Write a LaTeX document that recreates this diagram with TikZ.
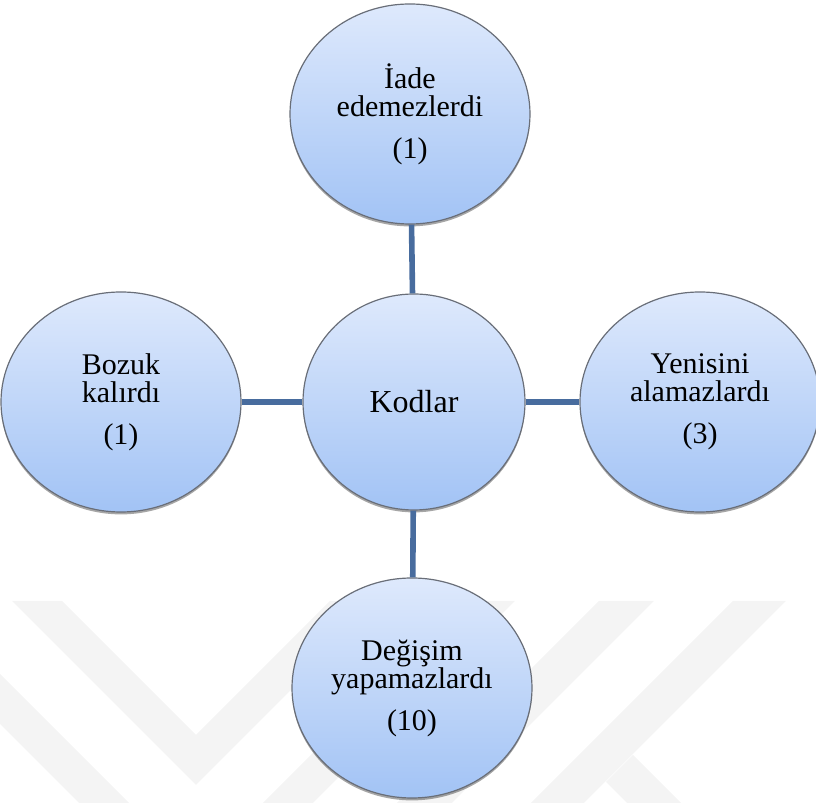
\documentclass[tikz,border=0pt]{standalone}
\usepackage{fontspec}
\setmainfont{Liberation Serif}
\usetikzlibrary{shapes.geometric,shadows}

\definecolor{linkblue}{RGB}{72,108,158}
\definecolor{bubbletop}{RGB}{222,233,252}
\definecolor{bubblebot}{RGB}{162,195,245}
\definecolor{bubbleedge}{RGB}{105,110,120}
\definecolor{markgray}{RGB}{244,244,244}

\begin{document}
\begin{tikzpicture}[x=0.5pt, y=0.5pt,
    bubble/.style={ellipse, draw=bubbleedge, line width=0.6pt, inner sep=0pt,
        top color=bubbletop, bottom color=bubblebot, align=center,
        font=\fontsize{15}{14}\selectfont,
        drop shadow={shadow xshift=0pt, shadow yshift=-1.2pt, opacity=0.35, fill=black}},
    satellite/.style={bubble, minimum width=120pt, minimum height=110pt},
    hub/.style={bubble, minimum width=111pt, minimum height=108pt},
    link/.style={draw=linkblue, line width=2.8pt}]
    \useasboundingbox (0,0) rectangle (816,803);

    % faint logo in the background
    \begin{scope}
        \clip (0,0) rectangle (816,803);
        \fill[markgray] (12,202) -- (62,202) -- (196,68) -- (330,202) -- (380,202) -- (196,18) -- cycle;
        \fill[markgray] (-123,202) -- (-73,202) -- (196,-67) -- (465,202) -- (515,202) -- (196,-117) -- cycle;
        \fill[markgray] (599,202) -- (654,202) -- (404,-48) -- (349,-48) -- cycle;
        \fill[markgray] (733,202) -- (786,202) -- (536,-48) -- (483,-48) -- cycle;
        \fill[markgray] (633,48) -- (730,-49) -- (676,-49) -- (606,21) -- cycle;
    \end{scope}

    \node[hub] (kodlar) at (414,401) {\fontsize{16}{16}\selectfont Kodlar};
    \node[satellite] (iade)   at (410,689) {İade\\edemezlerdi\\[7pt](1)};
    \node[satellite] (bozuk)  at (121,401) {Bozuk\\kalırdı\\[7pt](1)};
    \node[satellite] (yeni)   at (700,401) {Yenisini\\alamazlardı\\[7pt](3)};
    \node[satellite] (degis)  at (412,115) {Değişim\\yapamazlardı\\[7pt](10)};

    \draw[link] (kodlar) -- (iade);
    \draw[link] (kodlar) -- (bozuk);
    \draw[link] (kodlar) -- (yeni);
    \draw[link] (kodlar) -- (degis);
\end{tikzpicture}
\end{document}
